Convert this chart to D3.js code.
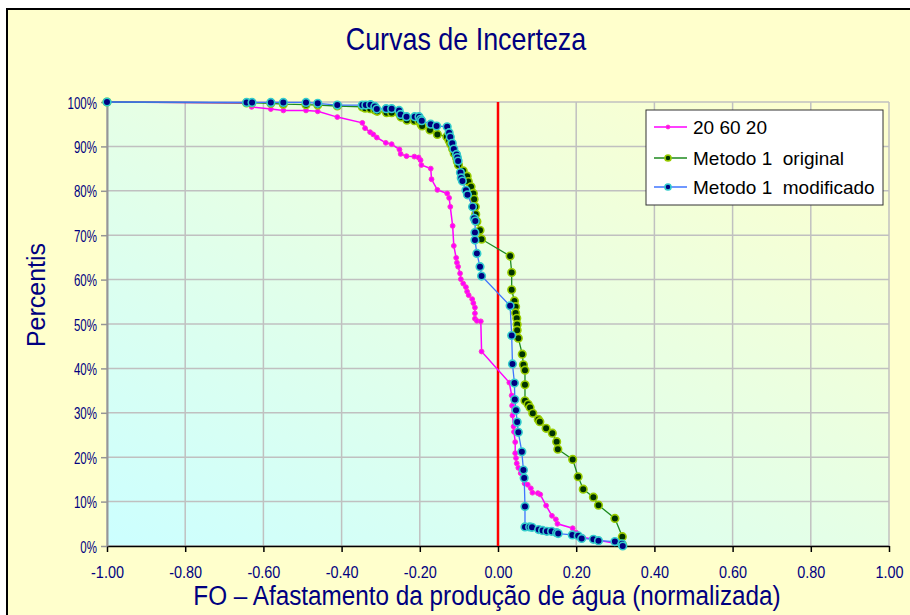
<!DOCTYPE html>
<html>
<head>
<meta charset="utf-8">
<script src="https://cdn.jsdelivr.net/npm/d3@7"></script>
<style>
  html, body { margin: 0; padding: 0; background: #ffffff; }
  svg { display: block; }
  text { font-family: "Liberation Sans", Arial, sans-serif; }
</style>
</head>
<body>
<svg id="chart" width="910" height="615"></svg>
<script>
// Uncertainty curves: cumulative percentile vs. normalised water-production deviation
const xTickValues = [-1, -0.8, -0.6, -0.4, -0.2, 0, 0.2, 0.4, 0.6, 0.8, 1];
const xTickLabels = ["-1.00", "-0.80", "-0.60", "-0.40", "-0.20", "0.00", "0.20", "0.40", "0.60", "0.80", "1.00"];
const yTickValues = [0, 10, 20, 30, 40, 50, 60, 70, 80, 90, 100];
const yTickLabels = ["0%", "10%", "20%", "30%", "40%", "50%", "60%", "70%", "80%", "90%", "100%"];

const seriesNames = ["20 60 20", "Metodo 1  original", "Metodo 1  modificado"];

// "20 60 20"
const fo206020 = [-1.00, -0.643, -0.630, -0.581, -0.549, -0.491, -0.461, -0.411, -0.347, -0.340,
  -0.327, -0.319, -0.310, -0.287, -0.272, -0.252, -0.249, -0.234, -0.214, -0.203,
  -0.198, -0.196, -0.172, -0.170, -0.155, -0.130, -0.125, -0.122, -0.116, -0.113,
  -0.107, -0.105, -0.102, -0.097, -0.095, -0.089, -0.082, -0.079, -0.075, -0.066,
  -0.063, -0.059, -0.059, -0.059, -0.054, -0.044, -0.042, 0.029, 0.035, 0.036,
  0.037, 0.040, 0.041, 0.044, 0.044, 0.046, 0.048, 0.052, 0.058, 0.066,
  0.068, 0.076, 0.084, 0.088, 0.102, 0.108, 0.123, 0.138, 0.148, 0.152,
  0.191, 0.200, 0.217, 0.244, 0.257, 0.299, 0.318];
const pct206020 = [100.0, 99.8, 98.9, 98.4, 98.1, 98.1, 97.9, 96.6, 95.3, 94.1,
  93.2, 92.7, 92.0, 90.8, 90.5, 89.3, 88.3, 87.8, 87.7, 87.5,
  86.9, 85.8, 85.0, 82.6, 80.2, 79.4, 78.4, 76.4, 72.1, 67.6,
  64.9, 63.8, 62.9, 61.4, 60.1, 59.1, 58.3, 57.3, 56.5, 55.6,
  54.7, 53.7, 52.4, 51.2, 50.7, 50.6, 43.8, 36.8, 33.9, 31.6,
  29.4, 26.9, 25.7, 23.4, 20.9, 19.8, 18.6, 17.6, 16.4, 15.2,
  14.1, 13.8, 13.0, 12.0, 11.9, 11.6, 9.1, 6.8, 6.0, 5.0,
  4.0, 3.0, 2.0, 1.5, 1.3, 0.6, 0.1];

// "Metodo 1  original"
const foOriginal = [-1.00, -0.643, -0.630, -0.581, -0.549, -0.491, -0.461, -0.411, -0.347, -0.340,
  -0.327, -0.315, -0.309, -0.285, -0.272, -0.252, -0.248, -0.233, -0.214, -0.202,
  -0.197, -0.194, -0.174, -0.155, -0.131, -0.125, -0.121, -0.116, -0.112, -0.106,
  -0.104, -0.101, -0.089, -0.079, -0.076, -0.069, -0.063, -0.061, -0.058, -0.057,
  -0.054, -0.046, -0.042, 0.031, 0.035, 0.035, 0.042, 0.045, 0.045, 0.048,
  0.049, 0.049, 0.052, 0.062, 0.065, 0.069, 0.069, 0.069, 0.077, 0.082,
  0.089, 0.103, 0.107, 0.123, 0.139, 0.150, 0.153, 0.191, 0.205, 0.218,
  0.244, 0.257, 0.299, 0.318, 0.319];
const pctOriginal = [100.0, 99.8, 99.8, 99.7, 99.5, 99.4, 99.3, 99.1, 98.9, 98.6,
  98.5, 98.2, 97.9, 97.6, 97.6, 97.3, 96.6, 95.9, 95.8, 95.7,
  95.0, 94.6, 93.7, 92.7, 92.2, 91.3, 90.5, 89.4, 88.4, 87.4,
  86.6, 85.8, 84.5, 83.3, 82.1, 80.9, 79.4, 78.1, 76.4, 74.7,
  73.1, 71.1, 69.1, 65.3, 61.6, 57.7, 55.2, 53.9, 52.5, 51.3,
  49.9, 48.6, 46.8, 43.2, 40.8, 39.6, 36.3, 32.7, 31.9, 31.2,
  29.9, 28.5, 28.0, 26.5, 25.4, 23.5, 21.8, 19.5, 15.6, 12.8,
  11.0, 9.2, 6.2, 2.1, 0.2];

// "Metodo 1  modificado"
const foModificado = [-1.00, -0.643, -0.629, -0.581, -0.549, -0.491, -0.461, -0.411, -0.347, -0.338,
  -0.326, -0.315, -0.310, -0.286, -0.272, -0.253, -0.249, -0.234, -0.213, -0.202,
  -0.198, -0.195, -0.172, -0.157, -0.130, -0.125, -0.122, -0.117, -0.113, -0.106,
  -0.104, -0.102, -0.096, -0.094, -0.091, -0.082, -0.078, -0.065, -0.061, -0.058,
  -0.059, -0.059, -0.054, -0.046, -0.042, 0.031, 0.035, 0.037, 0.042, 0.043,
  0.046, 0.049, 0.052, 0.061, 0.065, 0.067, 0.069, 0.069, 0.081, 0.087,
  0.104, 0.114, 0.125, 0.137, 0.150, 0.154, 0.190, 0.205, 0.214, 0.244,
  0.257, 0.299, 0.317, 0.319];
const pctModificado = [100.0, 99.9, 99.9, 99.9, 99.9, 99.9, 99.7, 99.3, 99.3, 99.3,
  99.4, 99.0, 98.4, 98.5, 98.5, 98.1, 97.2, 96.7, 96.7, 96.7,
  96.1, 95.8, 95.0, 94.6, 94.4, 93.1, 92.1, 90.7, 89.4, 88.2,
  87.5, 86.7, 84.1, 82.9, 82.2, 80.1, 79.1, 76.4, 73.8, 73.2,
  70.6, 68.9, 65.9, 62.9, 60.8, 54.1, 47.4, 41.0, 36.7, 33.0,
  30.6, 27.9, 25.6, 21.2, 17.1, 15.3, 8.9, 4.3, 4.3, 4.2,
  3.7, 3.5, 3.3, 3.3, 3.0, 2.8, 2.5, 2.3, 1.7, 1.5,
  1.2, 1.0, 0.5, 0.0];

const W = 910, H = 615;
const plot = { left: 107, right: 889, top: 102, bottom: 546 };
const navy = "#000080";

const svg = d3.select("#chart");
const defs = svg.append("defs");

const grad = defs.append("linearGradient")
  .attr("id", "plotFill")
  .attr("x1", "0").attr("y1", "1").attr("x2", "1").attr("y2", "0");
grad.append("stop").attr("offset", "0%").attr("stop-color", "#ccffff");
grad.append("stop").attr("offset", "100%").attr("stop-color", "#ffffcc");

// chart frame
svg.append("rect").attr("x", 0).attr("y", 0).attr("width", W).attr("height", H).attr("fill", "#ffffff");
svg.append("rect")
  .attr("x", 7).attr("y", 9).attr("width", W + 20).attr("height", H + 20)
  .attr("fill", "#ffffcc").attr("stroke", "#000000").attr("stroke-width", 2);

const x = d3.scaleLinear().domain([-1, 1]).range([plot.left, plot.right]);
const y = d3.scaleLinear().domain([0, 100]).range([plot.bottom, plot.top]);

svg.append("rect")
  .attr("x", plot.left).attr("y", plot.top)
  .attr("width", plot.right - plot.left).attr("height", plot.bottom - plot.top)
  .attr("fill", "url(#plotFill)");

// gridlines
const grid = svg.append("g").attr("stroke", "#c0c0c0").attr("stroke-width", 1.5);
grid.selectAll("line.v").data(xTickValues).join("line")
  .attr("x1", d => x(d)).attr("x2", d => x(d))
  .attr("y1", plot.top).attr("y2", plot.bottom);
grid.selectAll("line.h").data(yTickValues).join("line")
  .attr("x1", plot.left).attr("x2", plot.right)
  .attr("y1", d => y(d)).attr("y2", d => y(d));

// axes (labels use a condensed rendering of the sans face)
const xAxis = d3.axisBottom(x).tickValues(xTickValues)
  .tickFormat((d, i) => xTickLabels[i]).tickSize(6).tickSizeOuter(0);
const gx = svg.append("g").attr("transform", `translate(0,${plot.bottom})`).call(xAxis);
gx.select(".domain").attr("stroke", "#000000").attr("stroke-width", 1.5);
gx.selectAll(".tick line").attr("stroke", "#000000").attr("stroke-width", 1.5);
gx.selectAll(".tick text").attr("fill", navy).attr("font-size", 17)
  .attr("y", 0).attr("dy", 0).attr("transform", "translate(0,32) scale(0.85,1)");

const yAxis = d3.axisLeft(y).tickValues(yTickValues)
  .tickFormat((d, i) => yTickLabels[i]).tickSize(6).tickSizeOuter(0);
const gy = svg.append("g").attr("transform", `translate(${plot.left},0)`).call(yAxis);
gy.select(".domain").attr("stroke", "#969696").attr("stroke-width", 2);
gy.selectAll(".tick line").attr("stroke", "#969696").attr("stroke-width", 1.5);
gy.selectAll(".tick text").attr("fill", navy).attr("font-size", 16)
  .attr("x", 0).attr("dy", 0).attr("transform", "translate(-10,6) scale(0.72,1)");

// zero reference line
svg.append("line")
  .attr("x1", x(0)).attr("x2", x(0)).attr("y1", plot.top).attr("y2", plot.bottom)
  .attr("stroke", "#ff0000").attr("stroke-width", 2.5);

const series = [
  { name: seriesNames[0], fo: fo206020, pct: pct206020, line: "#ff00ff", lw: 1.5,
    r: 2.4, fill: "#ff00ff", stroke: "#ff33cc", sw: 1 },
  { name: seriesNames[1], fo: foOriginal, pct: pctOriginal, line: "#1e8a1e", lw: 1.3,
    r: 3.8, fill: "#003300", stroke: "#99cc00", sw: 1.6 },
  { name: seriesNames[2], fo: foModificado, pct: pctModificado, line: "#3f74ff", lw: 1.3,
    r: 3.8, fill: "#000080", stroke: "#33cccc", sw: 1.6 }
];

const line = d3.line().x(d => x(d[0])).y(d => y(d[1]));
series.forEach(s => {
  const pts = s.fo.map((v, i) => [v, s.pct[i]]);
  const g = svg.append("g");
  g.append("path").datum(pts).attr("d", line)
    .attr("fill", "none").attr("stroke", s.line).attr("stroke-width", s.lw);
  g.selectAll("circle").data(pts).join("circle")
    .attr("cx", d => x(d[0])).attr("cy", d => y(d[1])).attr("r", s.r)
    .attr("fill", s.fill).attr("stroke", s.stroke).attr("stroke-width", s.sw);
});

// titles
svg.append("text").attr("transform", "translate(466,50) scale(0.84,1)")
  .attr("text-anchor", "middle").attr("fill", navy).attr("font-size", 32)
  .text("Curvas de Incerteza");
svg.append("text").attr("transform", "translate(487,605) scale(0.9,1)")
  .attr("text-anchor", "middle").attr("fill", navy).attr("font-size", 27)
  .text("FO – Afastamento da produção de água (normalizada)");
svg.append("text").attr("transform", "translate(45,295) rotate(-90)")
  .attr("text-anchor", "middle").attr("fill", navy).attr("font-size", 25)
  .text("Percentis");

// legend
const lg = svg.append("g").attr("transform", "translate(646,110)");
lg.append("rect").attr("width", 237).attr("height", 95)
  .attr("fill", "#ffffff").attr("stroke", "#333333").attr("stroke-width", 1);
const rowsY = [17, 48, 77];
series.forEach((s, i) => {
  const r = lg.append("g").attr("transform", `translate(0,${rowsY[i]})`);
  r.append("line").attr("x1", 8).attr("x2", 41).attr("y1", 0).attr("y2", 0)
    .attr("stroke", s.line).attr("stroke-width", s.lw);
  r.append("circle").attr("cx", 22).attr("cy", 0).attr("r", s.r * 0.8)
    .attr("fill", s.fill).attr("stroke", s.stroke).attr("stroke-width", s.sw);
  r.append("text").attr("x", 47).attr("y", 7).attr("font-size", 19)
    .attr("fill", "#000000").style("white-space", "pre").text(s.name);
});
</script>
</body>
</html>
